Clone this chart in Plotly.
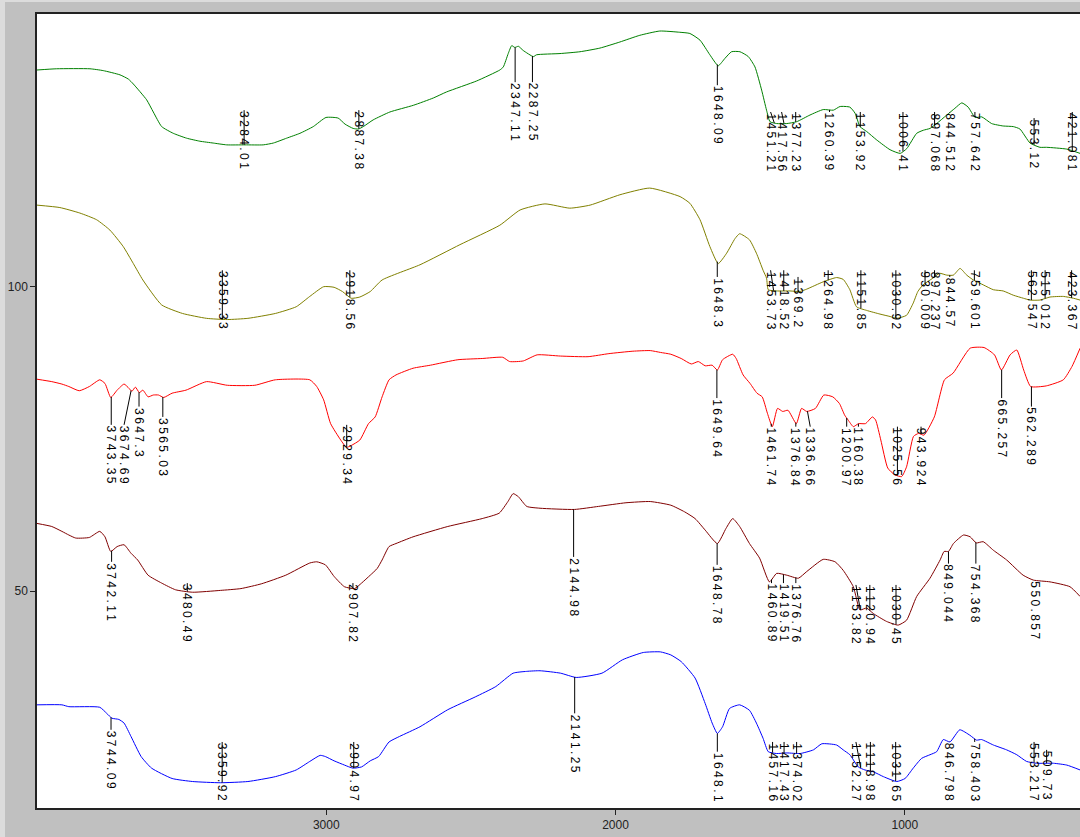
import numpy as np
import plotly.graph_objects as go

# ---------------- spectra (wavenumber cm-1, %T) ----------------
green_wn = [4000,3932,3817,3771,3713,3684,3667,3621,3598,3569,3529,3483,3437,3391,3344,3281,3218,3183,3137,3091,
            3045,3001,2959,2935,2907,2889,2872,2838,2780,2699,2630,2584,2480,2400,2388,2371,2359,2348,2336,2319,
            2284,2273,2192,2123,2054,1985,1916,1847,1778,1743,1708,1674,1645,1622,1599,1570,1541,1518,1495,1478,
            1466,1443,1408,1374,1328,1282,1247,1224,1190,1172,1155,1132,1097,1051,1016,993,959,936,913,890,
            855,827,803,781,757,734,700,660,625,602,567,533,510,440,394]
green_t = [135.6,135.8,135.8,135.5,134.8,134.1,133.3,130.7,128.7,126.3,125.2,124.4,123.9,123.6,123.3,123.3,123.3,123.6,124.4,125.2,
           126.3,127.8,127.7,126.7,126.0,125.9,126.3,127.4,128.7,129.8,131.0,132.0,133.8,135.6,136.1,138.3,139.6,139.3,139.5,138.8,
           137.8,138.1,138.3,138.6,139.2,140.2,141.3,142.0,141.8,141.6,140.5,138.1,136.3,137.5,138.6,138.6,137.8,136.1,132.3,129.0,
           127.1,126.8,126.8,127.1,128.2,129.1,129.0,129.6,129.5,128.5,126.3,125.5,124.1,122.5,121.9,122.7,125.2,125.7,126.0,126.8,
           128.2,129.3,130.2,129.5,127.8,127.9,126.8,126.4,126.3,125.9,123.6,122.9,122.9,122.6,121.9]

olive_wn = [4000,3921,3852,3794,3748,3702,3667,3634,3569,3497,3414,3342,3271,3176,3104,3057,3009,2973,2944,2914,
            2884,2848,2807,2676,2538,2400,2330,2244,2158,2088,1985,1882,1777,1743,1708,1674,1645,1616,1587,
            1571,1537,1513,1490,1478,1472,1443,1397,1363,1339,1282,1236,1213,1190,1167,1132,1086,1051,1028,994,
            971,955,937,903,880,855,832,809,786,763,729,694,660,625,590,567,533,498,452,417,394]
olive_t = [113.4,113.0,112.1,111.0,109.3,106.6,103.8,101.1,97.0,95.6,94.8,94.6,94.8,95.6,96.7,98.4,100.0,99.9,99.2,98.1,
           98.3,99.2,101.1,103.6,106.9,110.1,112.6,113.6,112.9,113.4,115.1,116.2,114.8,113.7,111.0,106.6,103.8,105.5,107.9,
           108.7,107.7,105.5,102.7,101.4,99.5,99.3,99.3,99.2,99.6,100.8,101.5,101.2,99.5,96.7,96.1,95.5,95.1,94.8,95.3,
           97.3,99.2,100.3,101.4,102.2,101.9,101.9,103.0,101.9,101.1,100.3,99.5,99.3,98.6,98.1,97.8,97.8,98.3,98.4,98.1,97.8]

red_wn = [4000,3949,3914,3890,3854,3819,3783,3765,3745,3723,3699,3682,3672,3660,3646,3634,3616,3598,3580,3562,
          3533,3485,3414,3342,3247,3176,3057,3033,3009,2985,2950,2930,2914,2884,2854,2831,2807,2783,2759,2700,
          2640,2545,2461,2390,2366,2319,2271,2190,2095,2023,1940,1880,1845,1809,1773,1738,1714,1690,1666,1648,
          1630,1595,1583,1559,1535,1511,1493,1475,1458,1440,1422,1404,1375,1357,1339,1309,1280,1249,1226,1208,
          1196,1178,1160,1136,1112,1101,1083,1059,1035,1011,994,970,952,934,898,863,833,774,726,690,
          666,636,613,589,565,511,452,422,394]
red_t = [84.8,84.4,84.0,83.6,82.9,83.6,84.7,84.1,81.8,83.0,84.0,83.3,82.8,83.5,82.6,83.0,81.9,82.2,82.2,81.8,
         82.5,83.0,84.4,83.8,83.8,84.7,84.7,83.6,81.4,77.5,74.8,73.6,73.9,74.8,77.5,78.6,81.9,84.7,85.5,86.6,
         87.1,88.0,88.2,88.4,87.7,87.8,88.8,88.6,88.5,89.0,89.4,89.5,89.2,88.9,88.2,87.3,87.7,87.0,87.1,86.3,
         88.0,88.9,88.2,85.5,84.1,82.5,81.9,79.2,77.0,80.0,79.5,79.7,77.5,80.0,79.5,80.0,82.2,81.9,80.8,78.9,
         78.1,77.0,77.5,77.5,78.6,78.1,74.8,70.2,69.1,68.8,70.4,75.4,75.9,75.6,78.6,84.7,85.8,89.9,90.0,88.8,
         86.3,88.8,89.6,86.3,83.6,83.7,84.7,86.9,89.9]

maroon_wn = [4000,3949,3914,3890,3866,3819,3783,3765,3745,3723,3699,3675,3652,3616,3569,3521,3462,3366,3295,3223,
             3140,3057,3033,3003,2973,2937,2902,2878,2848,2824,2807,2783,2759,2700,2580,2461,2402,2372,2354,2336,
             2307,2261,2142,2059,1964,1880,1809,1761,1725,1690,1648,1618,1595,
             1571,1537,1502,1468,1443,1408,1368,1339,1282,1241,1213,1178,1155,1132,1109,1063,1023,994,959,913,
             878,864,849,832,797,774,753,729,694,648,591,556,498,429,394]
maroon_t = [61.1,60.6,59.8,59.2,58.7,58.8,59.8,58.9,56.5,57.3,57.6,56.2,55.1,52.6,51.3,50.2,49.8,50.1,50.4,51.2,
            52.6,54.6,54.8,54.3,52.4,50.7,50.4,51.3,52.6,53.7,55.1,57.3,57.8,58.9,60.6,61.9,62.8,64.7,66.0,65.5,
            63.9,63.6,63.4,63.9,64.5,64.7,64.1,63.0,61.9,60.0,57.8,60.3,61.9,
            60.6,57.8,55.4,51.5,52.9,52.6,52.1,53.2,55.2,54.8,53.4,50.7,46.9,47.2,46.3,45.0,44.4,45.2,49.1,52.1,
            55.1,56.5,56.5,57.8,59.2,58.9,57.9,58.1,56.7,55.1,52.6,51.8,51.5,50.7,49.1]

blue_wn = [4000,3914,3890,3783,3759,3741,3717,3699,3675,3640,3604,3533,3462,3366,3271,3176,3104,3057,3021,3003,
           2973,2937,2908,2878,2848,2819,2783,2747,2676,2580,2485,2414,2354,2307,
           2261,2190,2136,2047,1976,1904,1845,1809,1773,1725,1690,1666,1648,1630,1606,
           1571,1537,1513,1490,1472,1443,1408,1362,1316,1287,1236,1213,1190,1161,1138,1109,1074,1028,999,971,
           942,913,890,867,844,810,775,752,735,694,648,613,579,544,486,440,394]
blue_t = [31.3,31.3,31.0,30.9,29.9,29.1,28.9,28.3,26.1,22.8,20.9,19.2,18.7,18.5,18.7,19.5,20.6,22.0,23.0,22.8,
          22.1,21.4,20.9,21.1,22.1,22.8,25.2,26.1,27.7,30.5,32.6,34.3,36.5,36.8,
          36.9,36.5,35.8,36.5,38.7,39.9,40.0,39.5,38.4,35.7,31.5,28.3,26.6,27.7,30.7,
          31.3,30.4,28.3,25.8,23.6,23.3,23.4,23.3,23.9,24.9,24.7,23.9,23.1,21.1,20.6,20.3,19.5,18.7,19.2,20.9,
          22.5,23.1,23.6,25.6,25.2,27.2,26.3,25.5,25.6,24.7,23.9,23.1,22.0,21.7,21.7,21.4,20.6]

# ---------------- peak labels ----------------
green_labels = ["3284.01","2887.38","2347.11","2287.25","1648.09","1451.21","1417.56","1377.23","1260.39",
                "1153.92","1006.41","897.068","844.512","757.642","553.12","421.081"]
green_label_top = [129.0,129.0,133.6,133.6,133.1,128.7,128.7,128.7,128.7,128.7,128.7,128.7,128.7,128.7,127.7,128.7]

olive_labels = ["3359.33","2918.56","1648.3","1453.73","1418.52","1369.2","1264.98","1151.85","1030.92",
                "930.009","897.237","844.57","759.601","562.547","515.012","423.367"]
olive_label_top = [102.7,102.7,101.6,102.7,102.7,101.6,102.7,102.7,102.7,102.7,102.7,101.6,102.7,102.7,102.7,102.7]

red_labels = ["3743.35","3674.69","3647.3","3565.03","2929.34","1649.64","1461.74","1376.84","1336.66",
              "1200.97","1160.38","1025.56","943.924","665.257","562.289"]
red_label_top = [77.3,77.3,80.3,78.6,77.3,81.7,77.0,77.0,77.0,77.0,77.0,77.0,77.0,81.7,80.3]

maroon_labels = ["3742.11","3480.49","2907.82","2144.98","1648.78","1460.89","1419.51","1376.76","1153.82",
                 "1120.94","1030.45","849.044","754.368","550.857"]
maroon_label_top = [54.8,51.3,51.3,55.6,54.3,51.3,51.3,51.3,51.0,51.0,51.0,54.5,54.5,51.8]

blue_labels = ["3744.09","3359.92","2904.97","2141.25","1648.1","1457.16","1417.43","1374.02","1152.27",
               "1118.98","1031.65","846.798","758.403","553.217","509.73"]
blue_label_top = [27.2,25.2,25.2,29.9,23.6,25.2,25.2,25.2,25.2,25.2,25.2,25.2,25.2,25.2,23.9]

# labels pushed aside from their peak (label centre wavenumber)
label_moved_to = {"3674.69": 3699, "1336.66": 1327, "1451.21": 1464, "1453.73": 1464,
                  "1152.27": 1169, "1153.82": 1169, "1417.56": 1426}

x_ticks = [3000, 2000, 1000]
y_ticks = [50, 100]

series = [
    (green_wn, green_t, "#008000", green_labels, green_label_top),
    (olive_wn, olive_t, "#808000", olive_labels, olive_label_top),
    (red_wn, red_t, "#ff0000", red_labels, red_label_top),
    (maroon_wn, maroon_t, "#800000", maroon_labels, maroon_label_top),
    (blue_wn, blue_t, "#0000ff", blue_labels, blue_label_top),
]

FONT = "Liberation Sans, Arial, sans-serif"
fig = go.Figure()
annotations = []

for wn, t, color, labels, tops in series:
    fig.add_trace(go.Scatter(x=wn, y=t, mode="lines",
                             line=dict(color=color, width=1, shape="spline", smoothing=0.5),
                             hoverinfo="skip", showlegend=False))
    xs, ys = [], []
    wn_inc = np.array(wn[::-1], dtype=float)
    t_inc = np.array(t[::-1], dtype=float)
    for lab, top in zip(labels, tops):
        pk = float(lab)
        lx = label_moved_to.get(lab, pk)
        yc = float(np.interp(pk, wn_inc, t_inc))
        xs += [pk, lx, None]
        ys += [yc, top, None]
        annotations.append(dict(
            x=lx, y=top, xref="x", yref="y", text="\u2009".join(list(lab)),
            textangle=90, xanchor="center", yanchor="top", showarrow=False,
            borderpad=0, font=dict(family=FONT, size=12, color="#000000")))
    fig.add_trace(go.Scatter(x=xs, y=ys, mode="lines", line=dict(color="#000000", width=1),
                             hoverinfo="skip", showlegend=False))

W, H = 1080, 837
L, R, T, B = 37, 0, 14, 29
pw, ph = W - L - R, H - T - B

fig.update_layout(
    width=W, height=H,
    margin=dict(l=L, r=R, t=T, b=B, pad=0),
    paper_bgcolor="#c0c0c0", plot_bgcolor="#ffffff",
    annotations=annotations,
    hovermode=False,
    shapes=[
        dict(type="rect", xref="paper", yref="paper", x0=-L / pw, x1=-(L - 5) / pw,
             y0=-B / ph, y1=(ph + T) / ph, fillcolor="#dcdcdc", line=dict(width=0), layer="below"),
        dict(type="rect", xref="paper", yref="paper", x0=-L / pw, x1=1.0,
             y0=(ph + T - 2) / ph, y1=(ph + T) / ph, fillcolor="#dcdcdc", line=dict(width=0), layer="below"),
    ],
    xaxis=dict(range=[4000, 394.4], tickvals=x_ticks, ticktext=[str(v) for v in x_ticks],
               ticks="outside", ticklen=5, tickcolor="#222222", showline=True, mirror=True,
               linecolor="#222222", linewidth=1.5, showgrid=False, zeroline=False,
               tickfont=dict(family=FONT, size=12, color="#222222")),
    yaxis=dict(range=[14.35, 144.8], tickvals=y_ticks, ticktext=[str(v) for v in y_ticks],
               ticks="outside", ticklen=5, tickcolor="#222222", showline=True, mirror=False,
               linecolor="#222222", linewidth=1.5, showgrid=False, zeroline=False,
               tickfont=dict(family=FONT, size=12, color="#222222")),
)

fig.write_html("out.html", config={"displayModeBar": False},
               post_script="document.body.style.margin='0';document.body.style.padding='0';")
